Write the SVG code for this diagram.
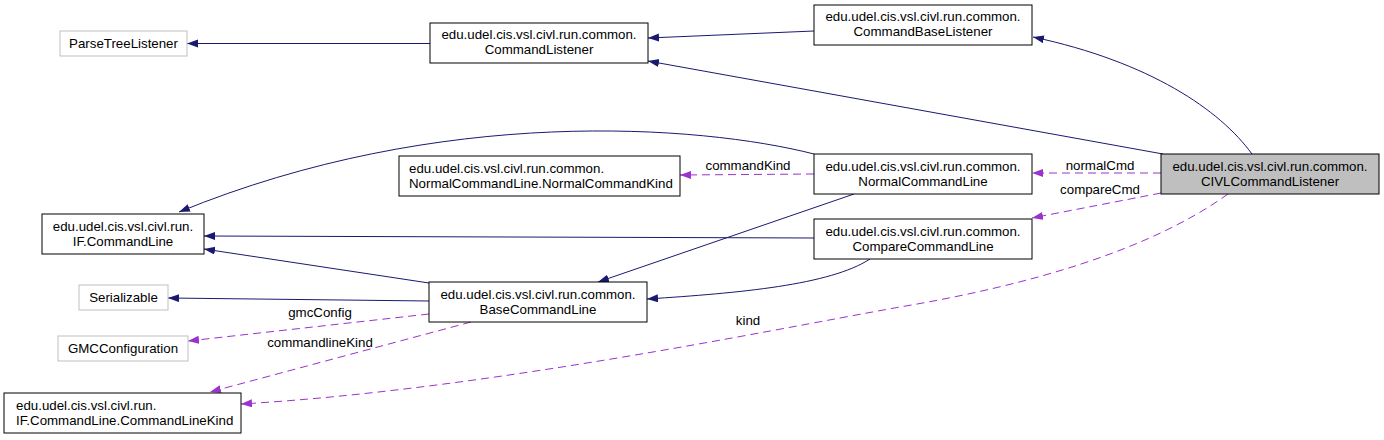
<svg xmlns="http://www.w3.org/2000/svg" width="1384" height="440" viewBox="0 0 1384 440">
<style>
text{font-family:"Liberation Sans",Arial,sans-serif;font-size:13.3px;fill:#000}
.c{text-anchor:middle}
.n{fill:#fff;stroke:#000;stroke-width:1}
.x{fill:#fff;stroke:#bfbfbf;stroke-width:1}
.h{fill:#bfbfbf;stroke:#000;stroke-width:1}
.inh{fill:none;stroke:#191970;stroke-width:1;marker-end:url(#ab)}
.use{fill:none;stroke:#9a32cd;stroke-width:1;stroke-dasharray:8,5;marker-end:url(#ap)}
</style>
<defs>
<marker id="ab" markerUnits="userSpaceOnUse" markerWidth="12" markerHeight="10" refX="11" refY="4" orient="auto"><path d="M0,0 L11,4 L0,8 z" fill="#191970"/></marker>
<marker id="ap" markerUnits="userSpaceOnUse" markerWidth="12" markerHeight="10" refX="11" refY="4" orient="auto"><path d="M0,0 L11,4 L0,8 z" fill="#9a32cd"/></marker>
</defs>
<rect width="1384" height="440" fill="#fff"/>
<g id="connectors">
<path class="inh" d="M430,43.5 L187,43.5"/>
<path class="inh" d="M814,31 L648,38"/>
<path class="inh" d="M1163,154 L648,61"/>
<path class="inh" d="M1252,154 C1220,110 1150,62 1033,37"/>
<path class="inh" d="M814,154 C700,125 440,105 179,212"/>
<path class="inh" d="M854,194 L598,282"/>
<path class="inh" d="M814,238 L204,236"/>
<path class="inh" d="M870,259 C830,285 740,293 647,299"/>
<path class="inh" d="M429,283 L204,249"/>
<path class="inh" d="M429,301 L168,298"/>
<path class="use" d="M1161,173 L1032,173"/>
<text class="c" x="1100" y="170">normalCmd</text>
<path class="use" d="M814,174 L680,175"/>
<text class="c" x="748" y="170">commandKind</text>
<path class="use" d="M1161,193 L1032,218"/>
<text class="c" x="1100" y="194">compareCmd</text>
<path class="use" d="M1228,194 C1150,250 1030,285 900,307 C760,332 480,390 241,404"/>
<text class="c" x="748" y="325">kind</text>
<path class="use" d="M429,314 L188,341"/>
<text class="c" x="320" y="317">gmcConfig</text>
<path class="use" d="M471,322 L210,392"/>
<text class="c" x="320" y="347">commandlineKind</text>
</g>
<g id="ParseTreeListener"><rect class="x" x="60" y="31" width="127" height="25"/><text class="c" x="123.5" y="48">ParseTreeListener</text></g>
<g id="CommandListener"><rect class="n" x="430" y="23" width="218" height="40"/><text class="c" x="539" y="39">edu.udel.cis.vsl.civl.run.common.</text><text class="c" x="539" y="54">CommandListener</text></g>
<g id="CommandBaseListener"><rect class="n" x="814" y="5" width="218" height="40"/><text class="c" x="923" y="21">edu.udel.cis.vsl.civl.run.common.</text><text class="c" x="923" y="36">CommandBaseListener</text></g>
<g id="NormalCommandKind"><rect class="n" x="399" y="156" width="281" height="40"/><text x="409" y="173">edu.udel.cis.vsl.civl.run.common.</text><text x="409" y="188">NormalCommandLine.NormalCommandKind</text></g>
<g id="NormalCommandLine"><rect class="n" x="814" y="154" width="218" height="40"/><text class="c" x="923" y="171">edu.udel.cis.vsl.civl.run.common.</text><text class="c" x="923" y="186">NormalCommandLine</text></g>
<g id="CIVLCommandListener"><rect class="h" x="1161" y="154" width="218" height="40"/><text class="c" x="1270" y="171">edu.udel.cis.vsl.civl.run.common.</text><text class="c" x="1270" y="186">CIVLCommandListener</text></g>
<g id="CommandLine"><rect class="n" x="42" y="214" width="162" height="40"/><text class="c" x="123" y="231">edu.udel.cis.vsl.civl.run.</text><text class="c" x="123" y="246">IF.CommandLine</text></g>
<g id="CompareCommandLine"><rect class="n" x="814" y="219" width="218" height="40"/><text class="c" x="923" y="236">edu.udel.cis.vsl.civl.run.common.</text><text class="c" x="923" y="251">CompareCommandLine</text></g>
<g id="Serializable"><rect class="x" x="79" y="285" width="89" height="25"/><text class="c" x="123.5" y="302">Serializable</text></g>
<g id="BaseCommandLine"><rect class="n" x="429" y="282" width="218" height="40"/><text class="c" x="538" y="299">edu.udel.cis.vsl.civl.run.common.</text><text class="c" x="538" y="314">BaseCommandLine</text></g>
<g id="GMCConfiguration"><rect class="x" x="58" y="336" width="130" height="25"/><text class="c" x="123" y="353">GMCConfiguration</text></g>
<g id="CommandLineKind"><rect class="n" x="4" y="393" width="237" height="40"/><text x="16" y="410">edu.udel.cis.vsl.civl.run.</text><text x="16" y="425">IF.CommandLine.CommandLineKind</text></g>
</svg>
